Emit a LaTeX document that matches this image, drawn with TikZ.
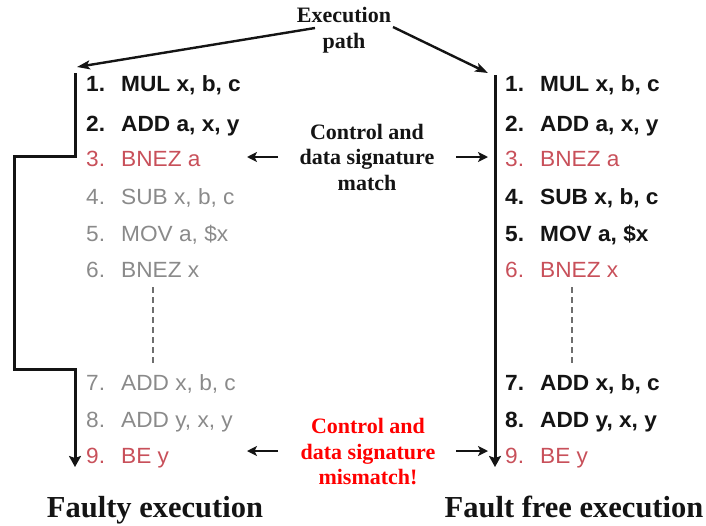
\documentclass[tikz,border=0pt]{standalone}
\usepackage{fontspec}
\setmainfont{Liberation Serif}
\setsansfont{Liberation Sans}[FakeStretch=1.03]
\usetikzlibrary{arrows.meta}
\definecolor{ink}{HTML}{141414}
\definecolor{redi}{HTML}{C8505A}
\definecolor{grayi}{HTML}{8A8A8A}
\definecolor{dash}{HTML}{6E6E6E}
\definecolor{alarm}{HTML}{FF0000}
\newcommand\insf{\sffamily\fontsize{22}{26}\selectfont}
\newcommand\lbl{\rmfamily\bfseries\fontsize{22}{25.5}\selectfont}
\newcommand\ttl{\rmfamily\bfseries\fontsize{30.5}{34}\selectfont}
\newcommand\ins[2]{\makebox[35pt][l]{#1}#2}
\begin{document}
\begin{tikzpicture}[x=1pt,y=-1pt,
  rowb/.style={anchor=base west,inner sep=0pt,font=\insf\bfseries,text=ink},
  rowr/.style={anchor=base west,inner sep=0pt,font=\insf,text=redi},
  rowg/.style={anchor=base west,inner sep=0pt,font=\insf,text=grayi},
  note/.style={align=center,inner sep=0pt,font=\lbl,text=ink},
  title/.style={anchor=base,inner sep=0pt,font=\ttl,text=ink},
  mainpath/.style={line width=3pt,draw=ink,-{Stealth[length=11pt,width=12pt,inset=2pt]}},
  expath/.style={line width=2.4pt,draw=ink,-{Stealth[length=13pt,width=9pt,inset=3pt]}},
  sig/.style={line width=2.4pt,draw=ink,-{Stealth[length=10pt,width=10pt,inset=2.5pt]}},
  dots/.style={line width=2.5pt,draw=dash,dash pattern=on 6pt off 4pt}]
\useasboundingbox (0,0) rectangle (706,525);

% left column (faulty)
\node[rowb] (l1) at (86,91)  {\ins{1.}{MUL x, b, c}};
\node[rowb] (l2) at (86,131) {\ins{2.}{ADD a, x, y}};
\node[rowr] (l3) at (86,166) {\ins{3.}{BNEZ a}};
\node[rowg] (l4) at (86,204) {\ins{4.}{SUB x, b, c}};
\node[rowg] (l5) at (86,241) {\ins{5.}{MOV a, \$x}};
\node[rowg] (l6) at (86,277) {\ins{6.}{BNEZ x}};
\node[rowg] (l7) at (86,390) {\ins{7.}{ADD x, b, c}};
\node[rowg] (l8) at (86,427) {\ins{8.}{ADD y, x, y}};
\node[rowr] (l9) at (86,463) {\ins{9.}{BE y}};

% right column (fault free)
\node[rowb] (r1) at (505,91)  {\ins{1.}{MUL x, b, c}};
\node[rowb] (r2) at (505,131) {\ins{2.}{ADD a, x, y}};
\node[rowr] (r3) at (505,166) {\ins{3.}{BNEZ a}};
\node[rowb] (r4) at (505,204) {\ins{4.}{SUB x, b, c}};
\node[rowb] (r5) at (505,241) {\ins{5.}{MOV a, \$x}};
\node[rowr] (r6) at (505,277) {\ins{6.}{BNEZ x}};
\node[rowb] (r7) at (505,390) {\ins{7.}{ADD x, b, c}};
\node[rowb] (r8) at (505,427) {\ins{8.}{ADD y, x, y}};
\node[rowr] (r9) at (505,463) {\ins{9.}{BE y}};

% labels
\node[note] (ep) at (344,30) {Execution\\path};
\node[note] (match) at (367,157) {Control and\\data signature\\match};
\node[note,text=alarm] (mis) at (368,452) {Control and\\data signature\\mismatch!};
\node[title] (tf) at (155,517) {Faulty execution};
\node[title] (tr) at (574,517) {Fault free execution};

% path coordinates
\coordinate (ltop) at (75,73);
\coordinate (lst1) at (75,156);
\coordinate (lst2) at (14,156);
\coordinate (lst3) at (14,369);
\coordinate (lst4) at (75,369);
\coordinate (lend) at (75,467);
\coordinate (rtop) at (495,75);
\coordinate (rend) at (495,467);
\coordinate (epl) at (315,28);
\coordinate (epr) at (393,27);
\coordinate (eptl) at (77,67);
\coordinate (eptr) at (488,73);

% execution paths
\draw[mainpath] (ltop) -- (lst1) -- (lst2) -- (lst3) -- (lst4) -- (lend);
\draw[mainpath] (rtop) -- (rend);
\draw[expath] (epl) -- (eptl);
\draw[expath] (epr) -- (eptr);

% signature arrows
\coordinate (ma) at (278,157);
\coordinate (mat) at (247,157);
\coordinate (mb) at (456,157);
\coordinate (mbt) at (488,157);
\coordinate (xa) at (278,451);
\coordinate (xat) at (247,451);
\coordinate (xb) at (456,451);
\coordinate (xbt) at (488,451);
\draw[sig] (ma) -- (mat);
\draw[sig] (mb) -- (mbt);
\draw[sig] (xa) -- (xat);
\draw[sig] (xb) -- (xbt);

% elided instructions
\coordinate (dl1) at (153,287);
\coordinate (dl2) at (153,366);
\coordinate (dr1) at (572,287);
\coordinate (dr2) at (572,366);
\draw[dots] (dl1) -- (dl2);
\draw[dots] (dr1) -- (dr2);
\end{tikzpicture}
\end{document}
